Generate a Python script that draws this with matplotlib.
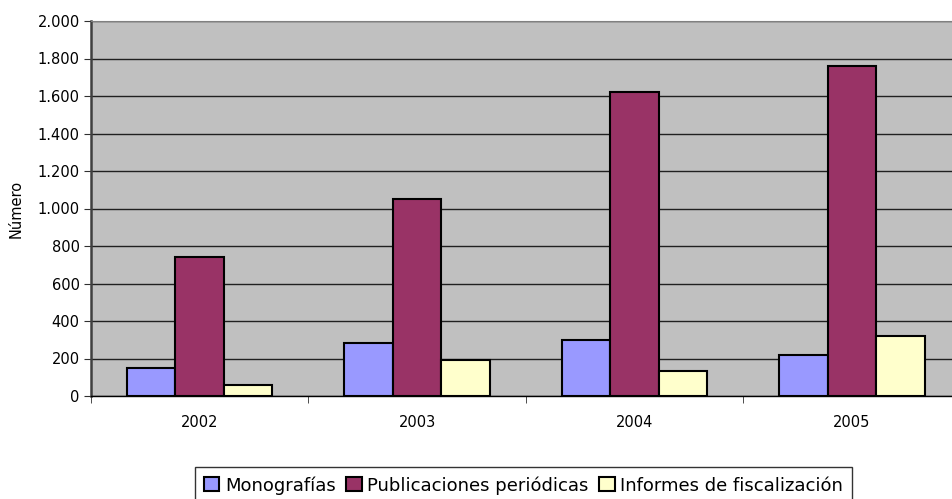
import numpy as np
import matplotlib
matplotlib.use("Agg")
import matplotlib.pyplot as plt
from matplotlib.ticker import FuncFormatter

years = ["2002", "2003", "2004", "2005"]
monografias = [150, 281, 299, 219]
publicaciones = [743, 1050, 1620, 1760]
informes = [59, 192, 133, 320]

series = [("Monografías", monografias, "#9999FF"),
          ("Publicaciones periódicas", publicaciones, "#993366"),
          ("Informes de fiscalización", informes, "#FFFFCC")]

fig = plt.figure(figsize=(9.52, 4.99), dpi=100)
ax = fig.add_axes([90.8/952, 1-396/499, 870/952, 375/499])
ax.set_facecolor("#C0C0C0")

x = np.arange(len(years))
w = 0.2225
for i, (name, vals, col) in enumerate(series):
    ax.bar(x + (i-1)*w, vals, w, color=col, edgecolor="black", linewidth=1.5,
           label=name, zorder=3)

ax.set_xlim(-0.5, 3.5)
ax.set_ylim(0, 2000)
ax.set_yticks(np.arange(0, 2001, 200))
ax.yaxis.set_major_formatter(FuncFormatter(lambda v, p: f"{int(v):,}".replace(",", ".")))
ax.grid(axis="y", color="#202020", linewidth=1.0, zorder=1)
ax.set_xticks(x)
ax.set_xticklabels(years)
ax.set_xticks(np.arange(-0.5, 4, 1), minor=True)
ax.tick_params(axis="x", which="major", length=0, pad=14, labelsize=10.5)
ax.tick_params(axis="x", which="minor", length=5, color="#303030")
ax.tick_params(axis="y", length=5, labelsize=10.5, pad=3, color="#303030")
ax.set_ylabel("Número", fontsize=10.5, labelpad=10)

for s in ["top", "right"]:
    ax.spines[s].set_color("#808080")
ax.spines["left"].set_color("#404040")
ax.spines["left"].set_linewidth(1.8)
ax.spines["bottom"].set_color("black")
ax.spines["bottom"].set_linewidth(1.0)

# legend sits at the bottom edge, its lower border is cut off like in the original
leg = fig.legend(loc="upper right", bbox_to_anchor=(852/952, 1-467/499), ncol=3,
                 frameon=True, fancybox=False, edgecolor="black", fontsize=13,
                 handlelength=0.85, handleheight=0.85, handletextpad=0.3,
                 columnspacing=0.6, borderpad=0.5, borderaxespad=0)
leg.get_frame().set_linewidth(1.0)

fig.savefig("out.png", dpi=100)
